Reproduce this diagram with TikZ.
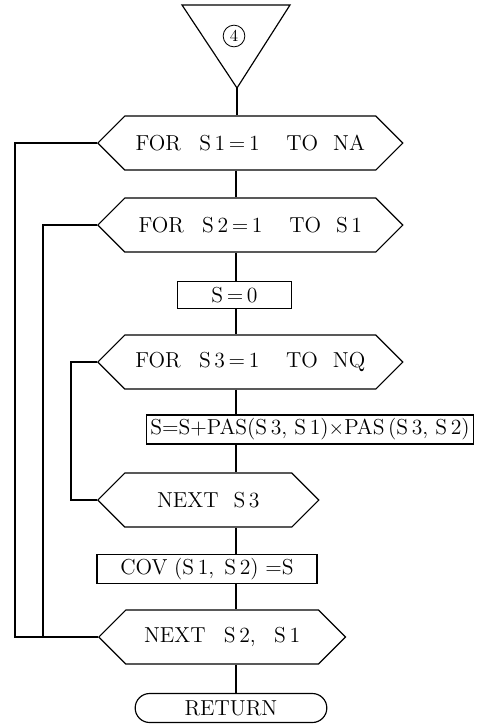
\documentclass[tikz,border=0pt]{standalone}
\usepackage{fontspec}
\usepackage{tikz}
\usetikzlibrary{shapes.symbols,shapes.misc,positioning}
\newcommand{\chartfont}{\fontsize{13}{15}\selectfont\addfontfeatures{LetterSpace=5}}
\tikzset{
  hexa/.style={draw, signal, signal to=west and east, signal pointer angle=90,
               minimum height=32.4pt, inner sep=0pt, font=\chartfont},
  proc/.style={draw, rectangle, minimum height=16pt, inner sep=1pt, font=\chartfont},
  term/.style={draw, rounded rectangle, minimum height=17.4pt, minimum width=117pt,
               inner sep=1pt, font=\chartfont},
  circnum/.style={draw, circle, inner sep=0pt, minimum size=13pt, line width=0.5pt, font=\normalsize},
}

\begin{document}
\begin{tikzpicture}[x=0.6pt, y=-0.6pt, line width=0.7pt]
  \useasboundingbox (0,0) rectangle (483,725);
  % entry connector
  \coordinate (tl) at (182,5);
  \coordinate (tr) at (290,5);
  \coordinate (tip) at (237,88);
  \draw (tl) -- (tr) -- (tip) -- cycle;
  \node[circnum] (c4) at (234,36) {4};
  \coordinate (sp) at (236,0);

  \node[hexa, minimum width=183pt, anchor=west] (f1) at (97,143) {FOR\hspace{11pt}S\,1\,=\,1\hspace{16pt}TO\hspace{9pt}NA};
  \node[hexa, minimum width=183pt, anchor=west] (f2) at (97,225) {FOR\hspace{11pt}S\,2\,=\,1\hspace{16pt}TO\hspace{9pt}S\,1};
  \node[proc, minimum width=68pt] (s0) at (234.5,295) {S\,=\,0};
  \node[hexa, minimum width=183pt, anchor=west] (f3) at (97,362) {FOR\hspace{11pt}S\,3\,=\,1\hspace{16pt}TO\hspace{9pt}NQ};
  \node[proc, minimum width=196pt, minimum height=17.4pt] (acc) at (310,429.5) {S=S+PAS(S\,3,\ S\,1)$\times$PAS\,(S\,3,\ S\,2)};
  \node[hexa, minimum width=132.6pt, anchor=west] (n3) at (97,500) {NEXT\hspace{9pt}S\,3};
  \node[proc, minimum width=132pt, minimum height=17pt] (cov) at (207,569) {COV\hspace{4pt}(S\,1,\hspace{6pt}S\,2)\hspace{4pt}=S};
  \node[hexa, minimum width=148pt, anchor=west] (n21) at (98,637) {NEXT\hspace{11pt}S\,2,\hspace{11pt}S\,1\hspace{40pt}};
  \node[term] (ret) at (231,708) {RETURN};

  % main line
  \draw (tip) -- (tip |- f1.north);
  \draw (f1.south -| sp) -- (f2.north -| sp);
  \draw (f2.south -| sp) -- (s0.north -| sp);
  \draw (s0.south -| sp) -- (f3.north -| sp);
  \draw (f3.south -| sp) -- (acc.north -| sp);
  \draw (acc.south -| sp) -- (n3.north -| sp);
  \draw (n3.south -| sp) -- (cov.north -| sp);
  \draw (cov.south -| sp) -- (n21.north -| sp);
  \draw (n21.south -| sp) -- (ret.north -| sp);

  % loops
  \draw (f1.west) -- +(-82,0) |- (n21.west);
  \draw (f2.west) -- +(-54,0) |- (n21.west);
  \draw (f3.west) -- +(-26,0) |- (n3.west);
\end{tikzpicture}
\end{document}
